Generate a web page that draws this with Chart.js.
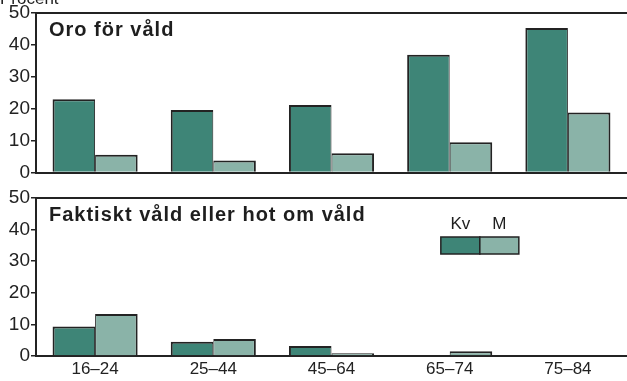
<!DOCTYPE html>
<html>
<head>
<meta charset="utf-8">
<script src="https://cdn.jsdelivr.net/npm/chart.js@4"></script>
<style>
    html, body { margin: 0; padding: 0; background: #fff; }
    canvas { display: block; }
</style>
</head>
<body>
<canvas id="oroChart" width="627" height="185"></canvas>
<canvas id="valdChart" width="627" height="196"></canvas>
<script>
const ageGroups = ['16–24', '25–44', '45–64', '65–74', '75–84'];
const seriesNames = ['Kv', 'M'];
const yTicks = [0, 10, 20, 30, 40, 50];

// Oro för våld (procent)
const oroKv = [23.0, 19.6, 21.2, 36.9, 45.3];
const oroM = [5.6, 3.8, 6.1, 9.5, 18.8];

// Faktiskt våld eller hot om våld (procent)
const valdKv = [9.3, 4.5, 3.2, 0.3, 0.2];
const valdM = [13.3, 5.4, 0.9, 1.5, 0.2];

const kvColor = '#3e8577';
const mColor = '#8ab3a8';
const lineColor = '#232323';
const fontFamily = '"Liberation Sans", Arial, sans-serif';

document.addEventListener('DOMContentLoaded', function () {

    // panel title, top frame line, optional legend and "Procent" label
    const panelDecor = {
        id: 'panelDecor',
        afterDraw(chart, args, opts) {
            const ctx = chart.ctx;
            const area = chart.chartArea;
            ctx.save();

            ctx.strokeStyle = lineColor;
            ctx.lineWidth = 2;
            ctx.beginPath();
            ctx.moveTo(area.left, area.top);
            ctx.lineTo(area.right, area.top);
            ctx.stroke();

            ctx.fillStyle = '#1e1e1e';
            ctx.textBaseline = 'alphabetic';
            ctx.textAlign = 'left';
            ctx.font = 'bold 20px ' + fontFamily;
            ctx.letterSpacing = '1px';
            ctx.fillText(opts.title, area.left + 13, area.top + 23);
            ctx.letterSpacing = '0px';

            if (opts.unit) {
                ctx.font = '17px ' + fontFamily;
                ctx.fillText(opts.unit, 0, 4);
            }

            if (opts.legend) {
                const boxW = 39, boxH = 17;
                let x = area.left + (area.right - area.left) * 0.685;
                const y = area.top + 39;
                ctx.font = '17px ' + fontFamily;
                ctx.textAlign = 'center';
                chart.data.datasets.forEach(ds => {
                    ctx.fillStyle = ds.backgroundColor;
                    ctx.fillRect(x, y, boxW, boxH);
                    ctx.strokeStyle = lineColor;
                    ctx.lineWidth = 1.5;
                    ctx.strokeRect(x, y, boxW, boxH);
                    ctx.fillStyle = '#1e1e1e';
                    ctx.fillText(ds.label, x + boxW / 2, y - 8);
                    x += boxW;
                });
            }
            ctx.restore();
        }
    };

    function makeDatasets(kv, m) {
        return [
            {
                label: seriesNames[0],
                data: kv,
                backgroundColor: kvColor,
                borderColor: lineColor,
                borderWidth: { top: 2, left: 2, right: 1, bottom: 0 },
                borderSkipped: false
            },
            {
                label: seriesNames[1],
                data: m,
                backgroundColor: mColor,
                borderColor: lineColor,
                borderWidth: { top: 2, left: 1, right: 2, bottom: 0 },
                borderSkipped: false
            }
        ];
    }

    function drawPanel(canvas, kv, m, title, showX, unit, legend, topPad, bottomPad) {
        new Chart(canvas.getContext('2d'), {
            type: 'bar',
            data: {
                labels: ageGroups,
                datasets: makeDatasets(kv, m)
            },
            options: {
                responsive: false,
                animation: false,
                categoryPercentage: 0.72,
                barPercentage: 1.0,
                layout: {
                    padding: { top: topPad, right: 0, bottom: bottomPad, left: 0 }
                },
                plugins: {
                    legend: { display: false },
                    tooltip: { enabled: false },
                    panelDecor: { title: title, unit: unit, legend: legend }
                },
                scales: {
                    x: {
                        grid: { display: false, drawTicks: false },
                        border: { color: lineColor, width: 2 },
                        ticks: {
                            display: showX,
                            color: '#222',
                            padding: 5,
                            font: { family: fontFamily, size: 17, lineHeight: 1 }
                        }
                    },
                    y: {
                        min: yTicks[0],
                        max: yTicks[yTicks.length - 1],
                        afterBuildTicks(scale) {
                            scale.ticks = yTicks.map(v => ({ value: v }));
                        },
                        afterFit(scale) {
                            scale.width = 36;
                        },
                        grid: {
                            drawOnChartArea: false,
                            drawTicks: true,
                            tickLength: 5,
                            color: lineColor,
                            lineWidth: 1.5
                        },
                        border: { color: lineColor, width: 2 },
                        ticks: {
                            color: '#222',
                            padding: 1,
                            font: { family: fontFamily, size: 19 }
                        }
                    }
                }
            },
            plugins: [panelDecor]
        });
    }

    drawPanel(document.getElementById('oroChart'), oroKv, oroM,
        'Oro för våld', false, 'Procent', false, 13, 5);
    drawPanel(document.getElementById('valdChart'), valdKv, valdM,
        'Faktiskt våld eller hot om våld', true, null, true, 13, -2);
});
</script>
</body>
</html>
